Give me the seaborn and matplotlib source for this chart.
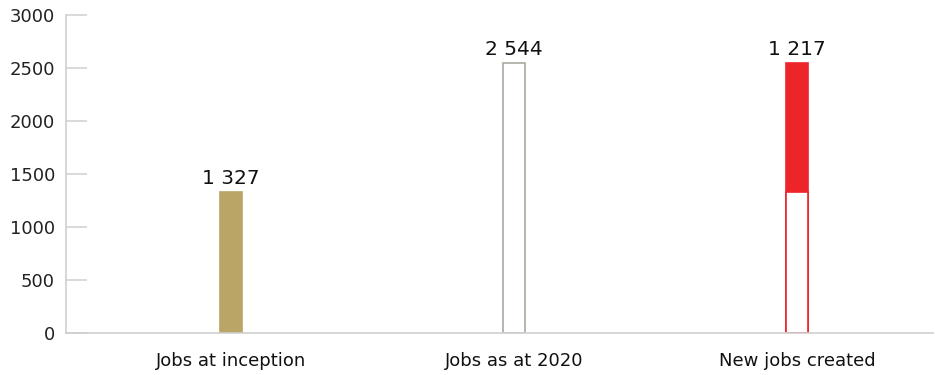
import matplotlib
matplotlib.use("Agg")
import matplotlib.pyplot as plt
import seaborn as sns
import pandas as pd
import numpy as np

categories = ["Jobs at inception", "Jobs as at 2020", "New jobs created"]
totals = [1327, 2544, 2544]
base_values = [np.nan, np.nan, 1327]
label_values = [1327, 2544, 1217]
yticks = [0, 500, 1000, 1500, 2000, 2500, 3000]

face_colors = ["#BBA566", "#FFFFFF", "#EE242B"]
edge_colors = ["#BBA566", "#A9A99F", "#EE242B"]

sns.set_style("white")
plt.rcParams["font.family"] = ["DejaVu Sans"]

fig = plt.figure(figsize=(9.35, 3.75), dpi=100)
ax = fig.add_axes([66/935, 42/375, (933-66)/935, (333-15)/375])

df = pd.DataFrame({"cat": categories, "total": totals, "base": base_values})
w = 0.078
sns.barplot(data=df, x="cat", y="total", ax=ax, width=w, color="white", order=categories)
for p, fc, ec in zip(ax.patches, face_colors, edge_colors):
    p.set_facecolor(fc)
    p.set_edgecolor(ec)
    p.set_linewidth(1.2)
n0 = len(ax.patches)
sns.barplot(data=df, x="cat", y="base", ax=ax, width=w, color="white", order=categories)
for p in ax.patches[n0:]:
    p.set_facecolor("white")
    p.set_edgecolor("#EE242B")
    p.set_linewidth(1.2)

for i, (t, v) in enumerate(zip(totals, label_values)):
    ax.text(i, t + 40, f"{v:,}".replace(",", " "), ha="center", va="bottom",
            fontsize=14.5, color="#111111")

ax.set_xlim(-0.583, 2.48)
ax.set_ylim(0, 3000)
ax.set_yticks(yticks)
ax.set_yticklabels([str(t) for t in yticks])
ax.set_xlabel("")
ax.set_ylabel("")
for s in ["top", "right"]:
    ax.spines[s].set_visible(False)
for s in ["left", "bottom"]:
    ax.spines[s].set_color("#CFCFCF")
    ax.spines[s].set_linewidth(1.2)
ax.tick_params(axis="y", left=True, direction="in", length=15, width=1.2, color="#D3D3D3",
               labelsize=13, labelcolor="#222222", pad=8)
ax.tick_params(axis="x", bottom=False, length=0, labelsize=13, labelcolor="#111111", pad=14)
ax.grid(False)

fig.savefig("out.png", dpi=100)
